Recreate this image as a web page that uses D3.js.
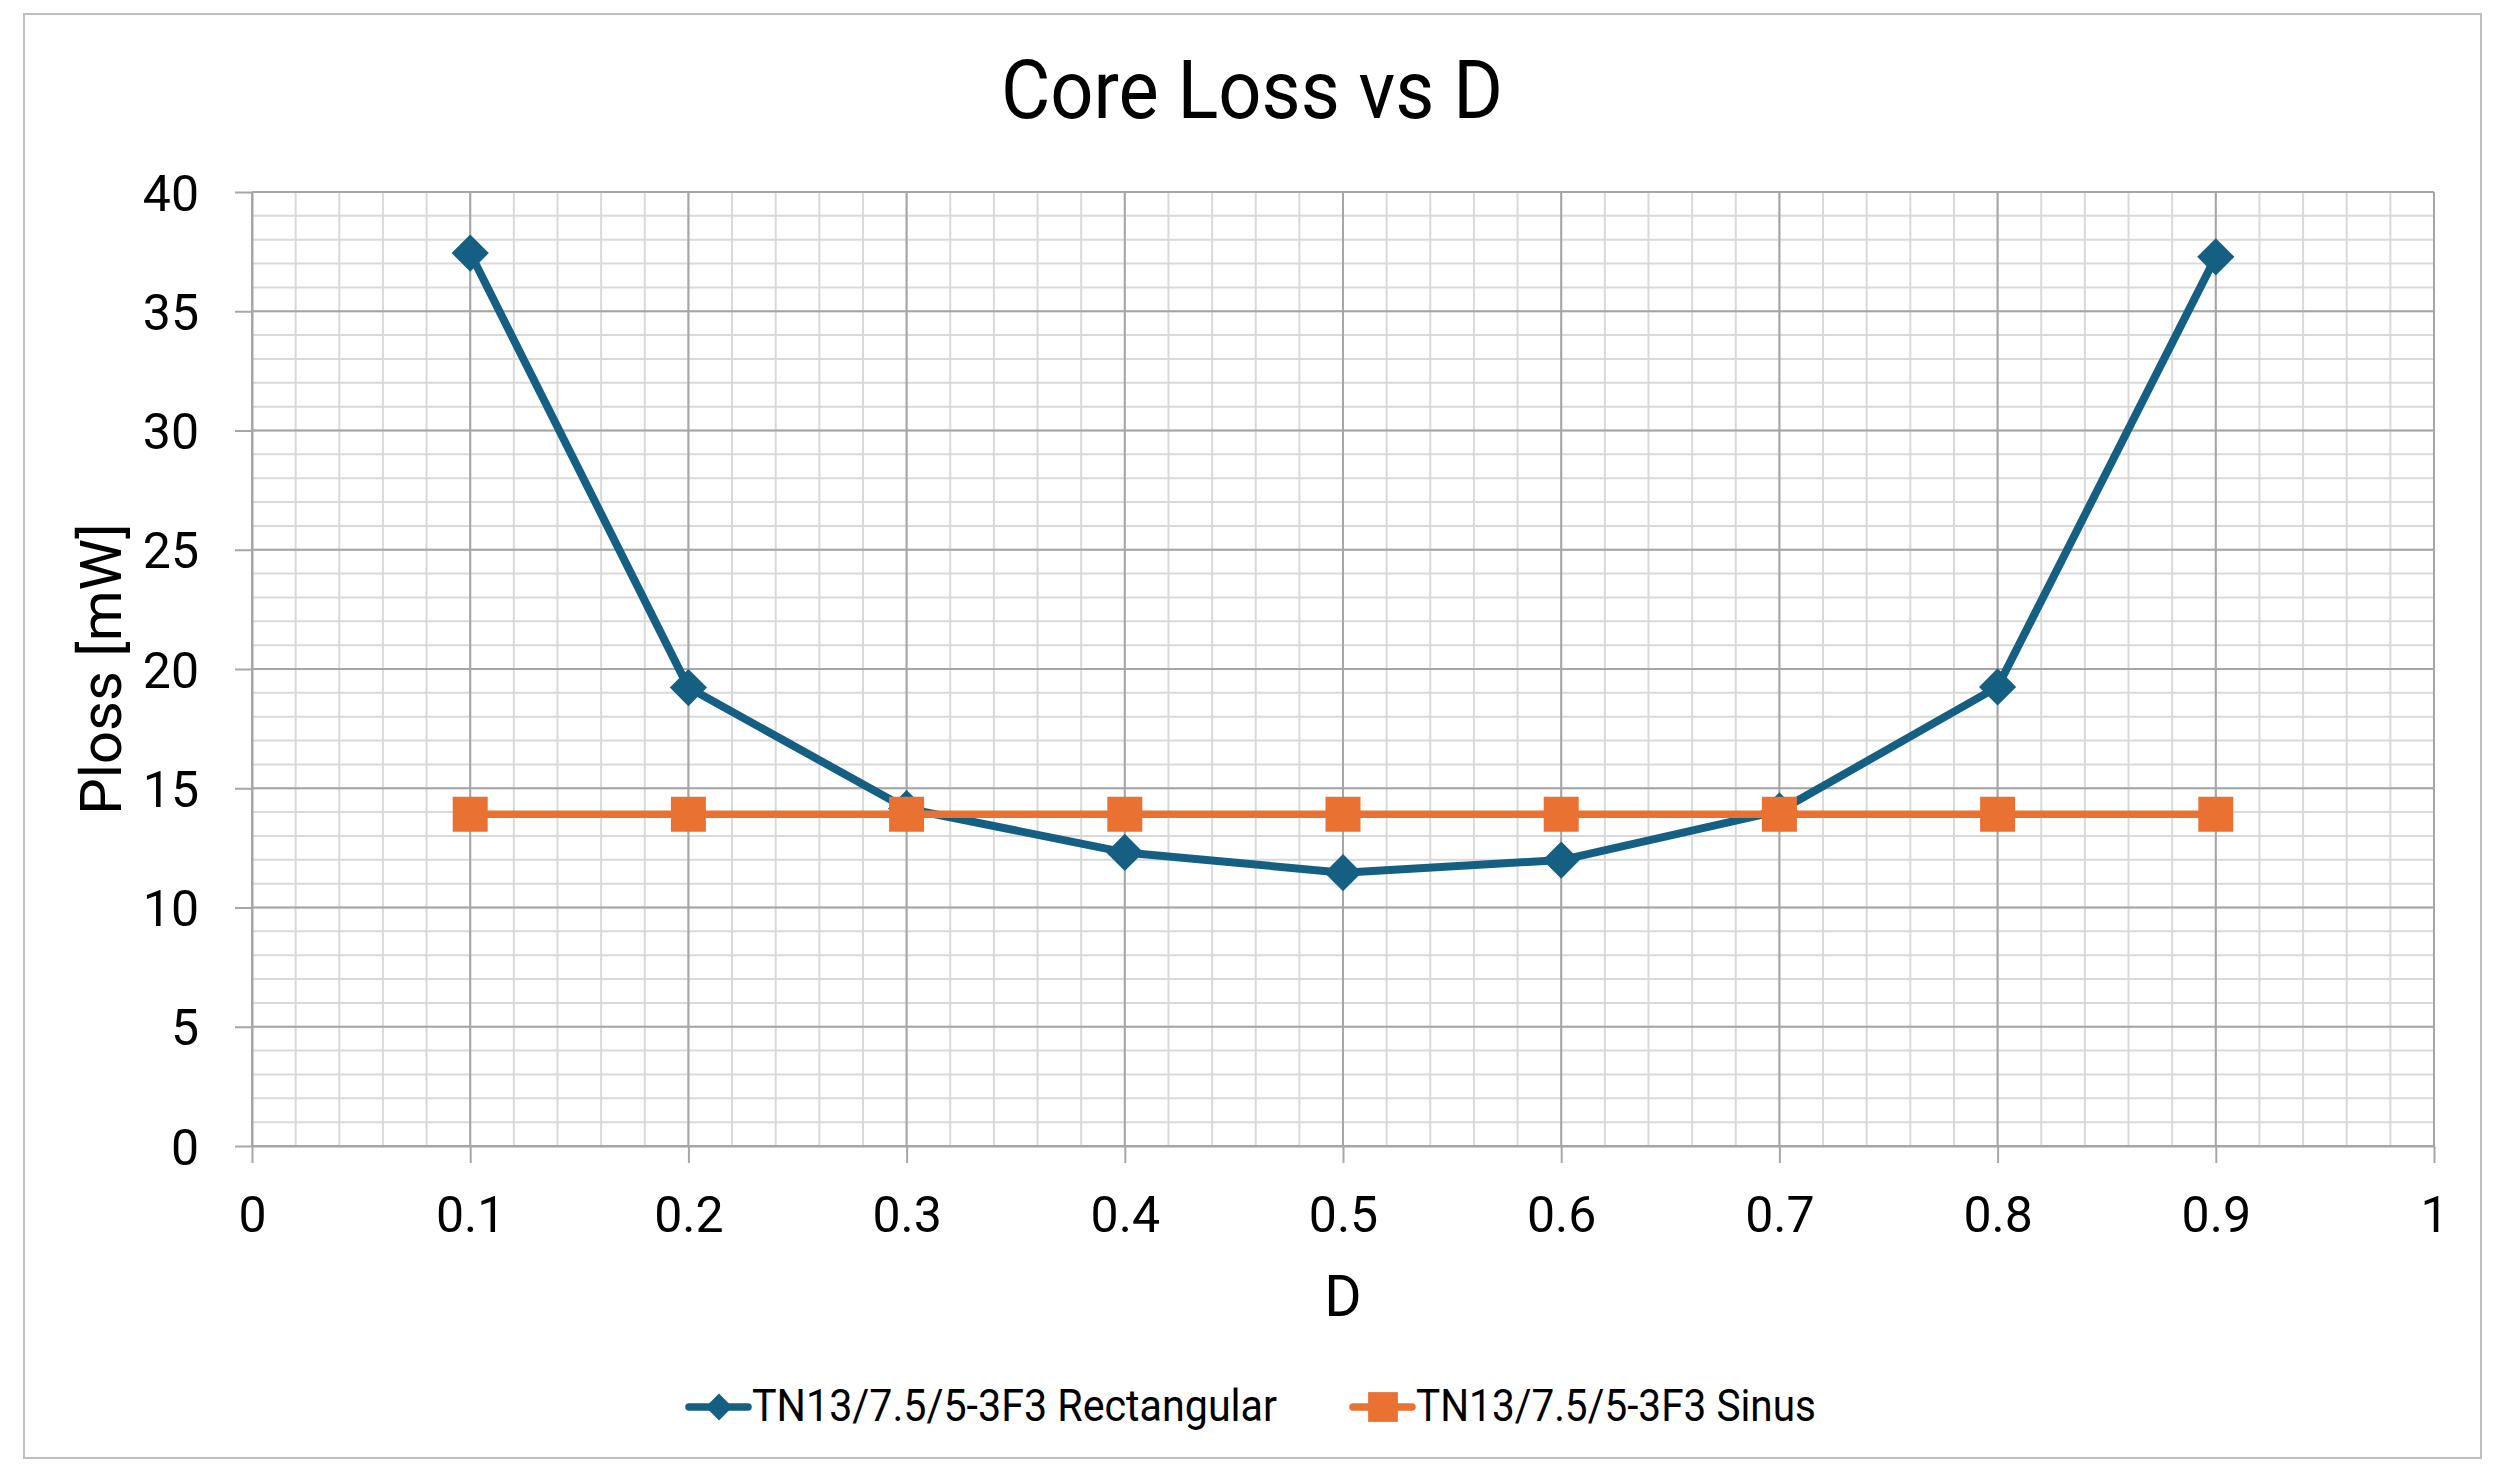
<!DOCTYPE html>
<html>
<head>
<meta charset="utf-8">
<script src="https://cdn.jsdelivr.net/npm/d3@7"></script>
<style>
  html, body { margin: 0; padding: 0; background: #fff; }
  svg text { font-family: Roboto, "Liberation Sans", sans-serif; fill: #000; }
</style>
</head>
<body>
<svg id="chart" width="2502" height="1481"></svg>
<script>
// duty cycle values on the x axis
const dutyCycles = [0.1, 0.2, 0.3, 0.4, 0.5, 0.6, 0.7, 0.8, 0.9];
// core loss in mW
const rectangularLoss = [37.44, 19.22, 14.15, 12.31, 11.46, 11.99, 14.05, 19.25, 37.28];
const sinusLoss = [13.91, 13.91, 13.91, 13.91, 13.91, 13.91, 13.91, 13.91, 13.91];
const seriesNames = ['TN13/7.5/5-3F3 Rectangular', 'TN13/7.5/5-3F3 Sinus'];
const xTicks = [0, 0.1, 0.2, 0.3, 0.4, 0.5, 0.6, 0.7, 0.8, 0.9, 1];
const yTicks = [0, 5, 10, 15, 20, 25, 30, 35, 40];

const blue = '#156082';
const orange = '#e97132';

const svg = d3.select('#chart');
const margin = { top: 192, right: 68, bottom: 335, left: 252 };
const width = 2502;
const height = 1481;
const plotW = width - margin.left - margin.right;
const plotH = height - margin.top - margin.bottom;

// chart frame
svg.append('rect')
  .attr('x', 24).attr('y', 14)
  .attr('width', 2457).attr('height', 1444)
  .attr('fill', '#fff')
  .attr('stroke', '#bfbfbf')
  .attr('stroke-width', 2);

const x = d3.scaleLinear().domain([0, 1]).range([margin.left, margin.left + plotW]);
const y = d3.scaleLinear().domain([0, 40]).range([margin.top + plotH, margin.top]);

// minor grid
const g = svg.append('g');
g.append('g')
  .selectAll('line')
  .data(d3.range(0, 1.0001, 0.02))
  .join('line')
  .attr('x1', (d) => x(d)).attr('x2', (d) => x(d))
  .attr('y1', y(0)).attr('y2', y(40))
  .attr('stroke', '#d9d9d9').attr('stroke-width', 2);
g.append('g')
  .selectAll('line')
  .data(d3.range(0, 40.001, 1))
  .join('line')
  .attr('x1', x(0)).attr('x2', x(1))
  .attr('y1', (d) => y(d)).attr('y2', (d) => y(d))
  .attr('stroke', '#d9d9d9').attr('stroke-width', 2);

// major grid
g.append('g')
  .selectAll('line')
  .data(xTicks)
  .join('line')
  .attr('x1', (d) => x(d)).attr('x2', (d) => x(d))
  .attr('y1', y(0)).attr('y2', y(40))
  .attr('stroke', '#a6a6a6').attr('stroke-width', 2);
g.append('g')
  .selectAll('line')
  .data(yTicks)
  .join('line')
  .attr('x1', x(0)).attr('x2', x(1))
  .attr('y1', (d) => y(d)).attr('y2', (d) => y(d))
  .attr('stroke', '#a6a6a6').attr('stroke-width', 2);

// axes
const xAxis = svg.append('g')
  .attr('transform', `translate(0,${y(0)})`)
  .call(d3.axisBottom(x).tickValues(xTicks).tickSize(17).tickSizeOuter(0)
    .tickFormat((d) => String(+d.toFixed(1))));
const yAxis = svg.append('g')
  .attr('transform', `translate(${x(0)},0)`)
  .call(d3.axisLeft(y).tickValues(yTicks).tickSize(17).tickSizeOuter(0)
    .tickFormat((d) => String(d)));

[xAxis, yAxis].forEach((ax) => {
  ax.select('.domain').attr('stroke', '#a6a6a6').attr('stroke-width', 2);
  ax.selectAll('.tick line').attr('stroke', '#a6a6a6').attr('stroke-width', 2);
  ax.selectAll('text').attr('font-size', 50).attr('fill', '#000');
});
xAxis.selectAll('text').attr('dy', null).attr('y', 86);
yAxis.selectAll('text').attr('dy', '0.36em').attr('x', -53);

// titles
svg.append('text')
  .attr('x', 1252).attr('y', 118)
  .attr('text-anchor', 'middle')
  .attr('font-size', 82)
  .attr('textLength', 502)
  .attr('lengthAdjust', 'spacingAndGlyphs')
  .text('Core Loss vs D');
svg.append('text')
  .attr('x', x(0.5)).attr('y', 1316)
  .attr('text-anchor', 'middle')
  .attr('font-size', 57)
  .text('D');
svg.append('text')
  .attr('transform', `translate(121,${y(20)}) rotate(-90)`)
  .attr('text-anchor', 'middle')
  .attr('font-size', 58)
  .text('Ploss [mW]');

// series
const line = d3.line().x((d) => x(d[0])).y((d) => y(d[1]));
const rectPts = dutyCycles.map((d, i) => [d, rectangularLoss[i]]);
const sinusPts = dutyCycles.map((d, i) => [d, sinusLoss[i]]);

const diamond = d3.symbol().type(d3.symbolDiamond2).size(42 * 42 / 2)();
const square = d3.symbol().type(d3.symbolSquare).size(35 * 35)();

svg.append('path')
  .datum(rectPts)
  .attr('d', line)
  .attr('fill', 'none')
  .attr('stroke', blue)
  .attr('stroke-width', 8)
  .attr('stroke-linejoin', 'round');
svg.append('g')
  .selectAll('path')
  .data(rectPts)
  .join('path')
  .attr('d', diamond)
  .attr('transform', (d) => `translate(${x(d[0])},${y(d[1])})`)
  .attr('fill', blue);

svg.append('path')
  .datum(sinusPts)
  .attr('d', line)
  .attr('fill', 'none')
  .attr('stroke', orange)
  .attr('stroke-width', 7.5);
svg.append('g')
  .selectAll('path')
  .data(sinusPts)
  .join('path')
  .attr('d', square)
  .attr('transform', (d) => `translate(${x(d[0])},${y(d[1])})`)
  .attr('fill', orange);

// legend
const legendY = 1407;
const legendItems = [
  { name: seriesNames[0], color: blue, marker: diamond, x0: 689, textW: 525, k: 0.72 },
  { name: seriesNames[1], color: orange, marker: square, x0: 1353, textW: 400, k: 0.85 },
];
const leg = svg.append('g')
  .selectAll('g')
  .data(legendItems)
  .join('g')
  .attr('transform', (d) => `translate(${d.x0},${legendY})`);
leg.append('line')
  .attr('x1', 0).attr('x2', 59)
  .attr('stroke', (d) => d.color)
  .attr('stroke-width', 7.5)
  .attr('stroke-linecap', 'round');
leg.append('path')
  .attr('d', (d) => d.marker)
  .attr('transform', (d) => `translate(30,0) scale(${d.k})`)
  .attr('fill', (d) => d.color);
leg.append('text')
  .attr('x', 63)
  .attr('y', 14)
  .attr('font-size', 45)
  .attr('textLength', (d) => d.textW)
  .attr('lengthAdjust', 'spacingAndGlyphs')
  .text((d) => d.name);
</script>
</body>
</html>
